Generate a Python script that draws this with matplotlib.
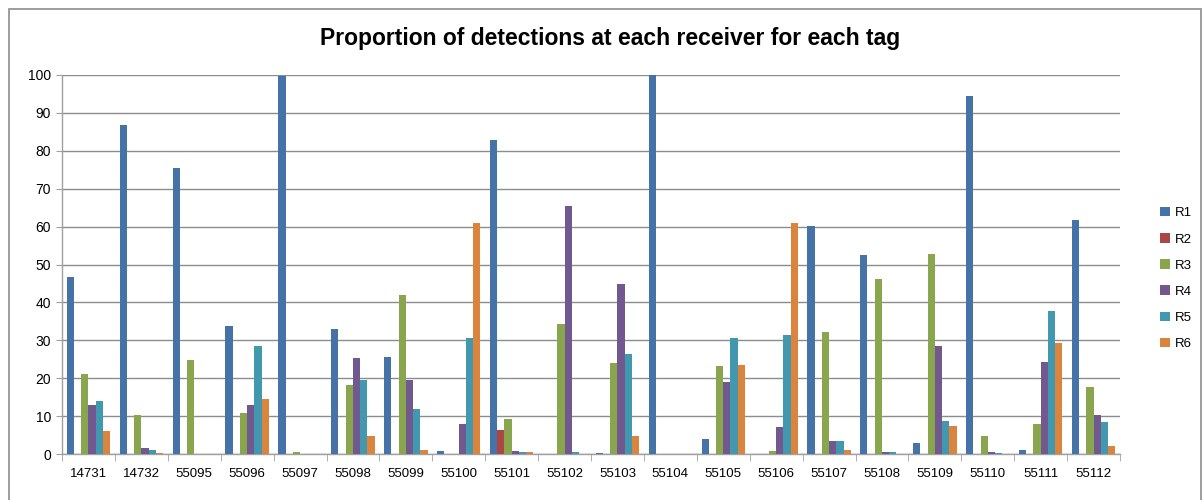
import numpy as np
import matplotlib
matplotlib.use('Agg')
import matplotlib.pyplot as plt
from matplotlib.patches import Rectangle

plt.rcParams['font.family'] = ['Liberation Sans', 'DejaVu Sans']

# tag ids and share of detections (%) at each receiver
tags = ['14731', '14732', '55095', '55096', '55097', '55098', '55099', '55100', '55101', '55102',
        '55103', '55104', '55105', '55106', '55107', '55108', '55109', '55110', '55111', '55112']
r1 = [46.6, 86.8, 75.4, 33.9, 99.8, 32.9, 25.7, 0.9, 82.8, 0.0,
      0.35, 100.0, 4.05, 0.0, 60.1, 52.4, 3.0, 94.4, 1.1, 61.7]
r2 = [0, 0, 0, 0, 0, 0, 0, 0, 6.4, 0,
      0, 0, 0, 0, 0, 0, 0, 0, 0, 0]
r3 = [21.0, 10.4, 24.9, 10.7, 0.4, 18.3, 41.9, 0.0, 9.3, 34.2,
      23.9, 0.0, 23.3, 0.9, 32.3, 46.3, 52.7, 4.8, 8.0, 17.8]
r4 = [13.0, 1.7, 0.0, 12.8, 0.0, 25.2, 19.4, 8.0, 0.9, 65.4,
      44.8, 0.0, 18.9, 7.0, 3.5, 0.6, 28.4, 0.6, 24.4, 10.4]
r5 = [14.1, 1.1, 0.0, 28.4, 0.0, 19.4, 12.0, 30.7, 0.6, 0.6,
      26.5, 0.0, 30.5, 31.3, 3.5, 0.6, 8.8, 0.35, 37.6, 8.5]
r6 = [6.0, 0.35, 0.0, 14.6, 0.0, 4.8, 1.1, 60.9, 0.6, 0.0,
      4.8, 0.0, 23.6, 60.9, 1.1, 0.0, 7.5, 0.0, 29.2, 2.2]
receivers = ['R1', 'R2', 'R3', 'R4', 'R5', 'R6']
colors = ['#4572A7', '#AA4643', '#89A54E', '#71588F', '#4198AF', '#DB843D']

fig = plt.figure(figsize=(12.03, 5.0), dpi=100)
# outer chart frame
fig.patches.append(Rectangle((9 / 1203, -0.01), 1192 / 1203, 0.992, transform=fig.transFigure,
                             fill=False, edgecolor='#8c8c8c', linewidth=1.2))
ax = fig.add_axes([62 / 1203, 1 - 454 / 500, (1120 - 62) / 1203, (454 - 75) / 500])

x = np.arange(len(tags))
w = 0.137
for i, (vals, name, c) in enumerate(zip([r1, r2, r3, r4, r5, r6], receivers, colors)):
    ax.bar(x + (i - 2.5) * w, vals, w, color=c, label=name, zorder=3)

ax.set_xlim(-0.5, len(tags) - 0.5)
ax.set_ylim(0, 100)
ax.set_yticks(range(0, 101, 10))
ax.set_xticks(x)
ax.set_xticklabels(tags)
ax.set_xticks(np.arange(-0.5, len(tags), 1), minor=True)
ax.tick_params(axis='x', which='major', length=0, pad=10, labelsize=9.5, colors='#000000')
ax.tick_params(axis='x', which='minor', length=5, color='#a0a0a0', direction='out')
ax.tick_params(axis='y', length=4, color='#a0a0a0', labelsize=10, pad=4)
ax.grid(axis='y', color='#8c8c8c', linewidth=1.0, zorder=0)
for s in ['top', 'right']:
    ax.spines[s].set_visible(False)
for s in ['left', 'bottom']:
    ax.spines[s].set_color('#a0a0a0')
    ax.spines[s].set_linewidth(1.0)

fig.text(610 / 1203, 0.922, 'Proportion of detections at each receiver for each tag',
         ha='center', va='center', fontsize=16.5, fontweight='bold')

ax.legend(loc='center left', bbox_to_anchor=(1.027, 0.463), frameon=False, fontsize=9.5,
          handlelength=0.7, handleheight=0.7, handletextpad=0.4, labelspacing=1.05)

fig.savefig('out.png', dpi=100)
